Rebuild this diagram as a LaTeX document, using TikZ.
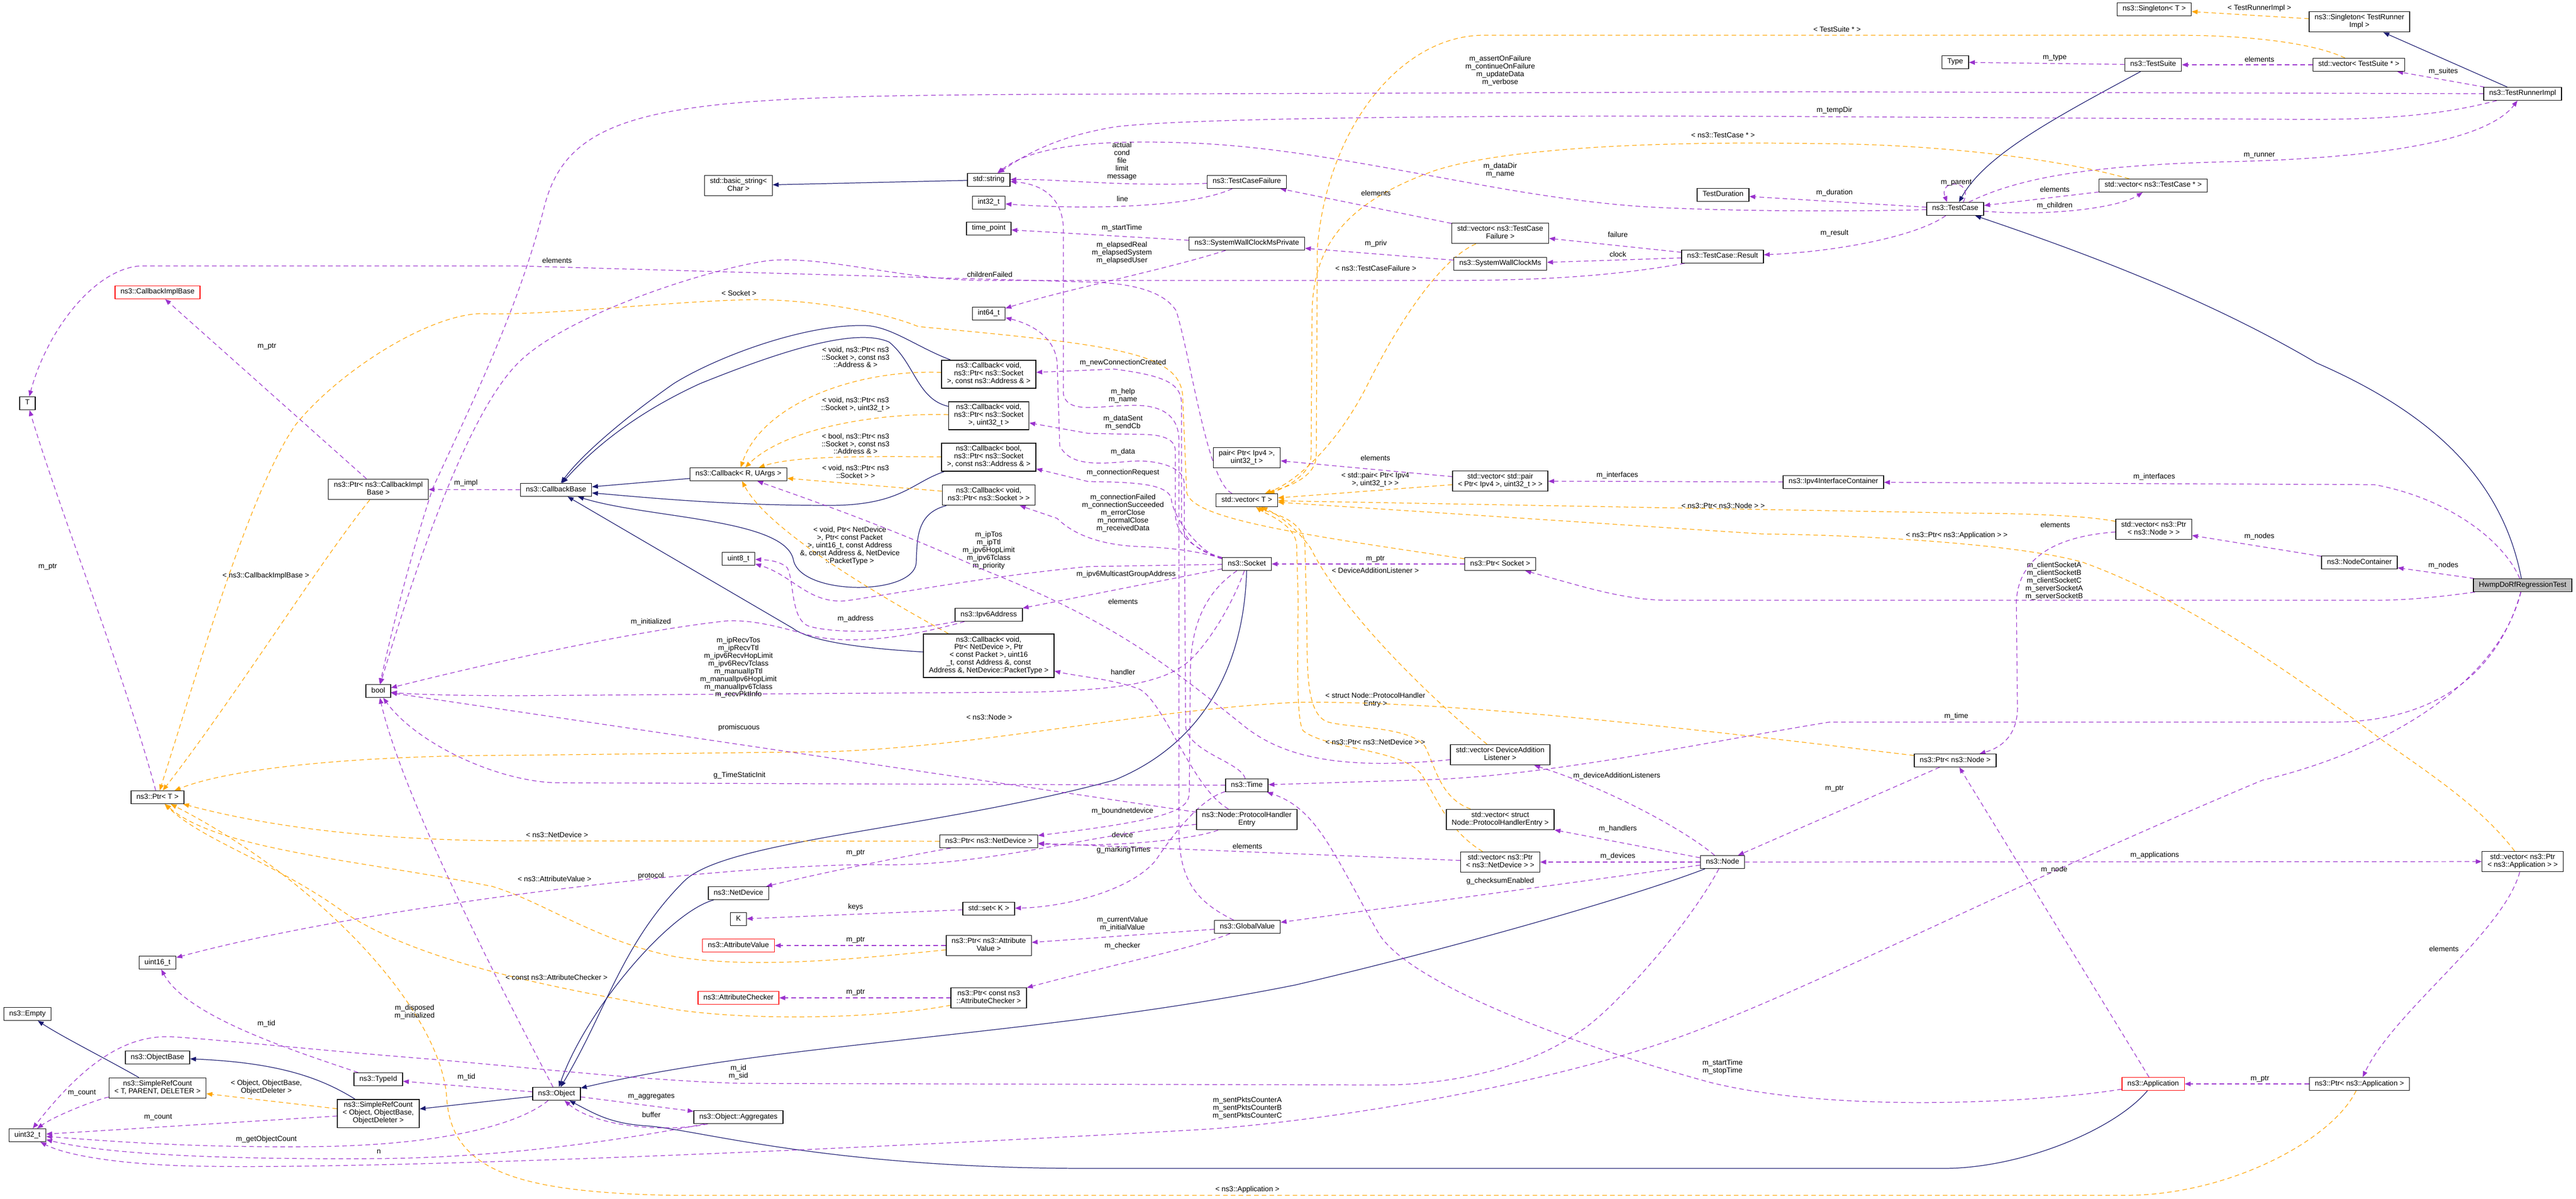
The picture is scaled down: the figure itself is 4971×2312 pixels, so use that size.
\documentclass[tikz,border=0pt]{standalone}
\usepackage{fontspec}
\setmainfont{Liberation Sans}
\usetikzlibrary{arrows.meta}
\definecolor{usecol}{HTML}{9A32CD}
\definecolor{tmplcol}{HTML}{FFA500}
\definecolor{inhcol}{HTML}{191970}
\definecolor{maingray}{HTML}{BFBFBF}
\pgfdeclarelayer{bg}
\pgfdeclarelayer{edges}
\pgfsetlayers{bg,edges,main}
\tikzset{
  cls/.style={draw=black, line width=0.8pt, fill=white, font=\fontsize{8}{8.5}\selectfont, align=center, inner xsep=6pt, inner ysep=2.8pt, execute at begin node=\strut, execute at end node=\strut},
  redcls/.style={cls, draw=red},
  maincls/.style={cls, fill=maingray},
  lbl/.style={font=\fontsize{8}{8.5}\selectfont, align=center, inner sep=0pt},
  tip/.style={-{Triangle[length=6.5pt,width=5pt]}},
  usage/.style={tip, draw=usecol, line width=0.7pt, dash pattern=on 5pt off 3.5pt},
  tmpl/.style={tip, draw=tmplcol, line width=0.7pt, dash pattern=on 5pt off 3.5pt},
  inherit/.style={tip, draw=inhcol, line width=0.7pt}
}
\begin{document}
\begin{tikzpicture}[x=0.02cm, y=-0.02cm]
\begin{pgfonlayer}{bg}
\fill[white] (0,0) rectangle (4971,2312);
\end{pgfonlayer}
\useasboundingbox (0,0) rectangle (4971,2312);

\node[cls] (SingT) at (4157,18) {ns3::Singleton< T >};
\node[cls] (SingTRI) at (4553,42) {ns3::Singleton< TestRunner\\Impl >};
\node[cls] (TRI) at (4868,181) {ns3::TestRunnerImpl};
\node[cls] (VecSuite) at (4552,125) {std::vector< TestSuite * >};
\node[cls] (Suite) at (4155,125) {ns3::TestSuite};
\node[cls] (Type) at (3773,120) {Type};
\node[cls] (TCase) at (3773,403) {ns3::TestCase};
\node[cls] (VecCase) at (4155,358) {std::vector< ns3::TestCase * >};
\node[cls] (Duration) at (3325,376) {TestDuration};
\node[cls] (Result) at (3324,495) {ns3::TestCase::Result};
\node[cls] (VecFail) at (2895,450) {std::vector< ns3::TestCase\\Failure >};
\node[cls] (Clock) at (2895,509) {ns3::SystemWallClockMs};
\node[cls] (ClockPriv) at (2406,470) {ns3::SystemWallClockMsPrivate};
\node[cls] (Fail) at (2406,351) {ns3::TestCaseFailure};
\node[cls] (Str) at (1908,347) {std::string};
\node[cls] (BStr) at (1425,358) {std::basic\_string<\\ Char >};
\node[cls] (I32) at (1908,391) {int32\_t};
\node[cls] (TPoint) at (1908,441) {time\_point};
\node[cls] (I64) at (1908,605) {int64\_t};
\node[cls] (CbA) at (1908,722) {ns3::Callback< void,\\ ns3::Ptr< ns3::Socket\\ >, const ns3::Address \& >};
\node[cls] (CbU) at (1908,802) {ns3::Callback< void,\\ ns3::Ptr< ns3::Socket\\ >, uint32\_t >};
\node[cls] (CbB) at (1908,882) {ns3::Callback< bool,\\ ns3::Ptr< ns3::Socket\\ >, const ns3::Address \& >};
\node[cls] (CbS) at (1908,955) {ns3::Callback< void,\\ ns3::Ptr< ns3::Socket > >};
\node[cls] (CbR) at (1425,915) {ns3::Callback< R, UArgs >};
\node[cls] (CbBase) at (1073,945) {ns3::CallbackBase};
\node[cls] (PtrImpl) at (730,944) {ns3::Ptr< ns3::CallbackImpl\\Base >};
\node[redcls] (ImplBase) at (304,564) {ns3::CallbackImplBase};
\node[cls] (T) at (53,778) {T};
\node[cls] (PtrT) at (304,1538) {ns3::Ptr< T >};
\node[cls] (Bool) at (730,1333) {bool};
\node[cls] (U8) at (1425,1078) {uint8\_t};
\node[cls] (Ip6) at (1908,1186) {ns3::Ipv6Address};
\node[cls] (CbDev) at (1908,1265) {ns3::Callback< void,\\ Ptr< NetDevice >, Ptr\\< const Packet >, uint16\\\_t, const Address \&, const\\ Address \&, NetDevice::PacketType >};
\node[cls] (PtrDev) at (1908,1623) {ns3::Ptr< ns3::NetDevice >};
\node[cls] (NetDev) at (1425,1723) {ns3::NetDevice};
\node[cls] (K) at (1425,1773) {K};
\node[cls] (SetK) at (1908,1753) {std::set< K >};
\node[redcls] (AttrVal) at (1425,1824) {ns3::AttributeValue};
\node[cls] (PtrVal) at (1908,1824) {ns3::Ptr< ns3::Attribute\\Value >};
\node[redcls] (AttrChk) at (1425,1925) {ns3::AttributeChecker};
\node[cls] (PtrChk) at (1908,1925) {ns3::Ptr< const ns3\\::AttributeChecker >};
\node[cls] (Global) at (2407,1788) {ns3::GlobalValue};
\node[cls] (Obj) at (1074,2110) {ns3::Object};
\node[cls] (Aggr) at (1425,2155) {ns3::Object::Aggregates};
\node[cls] (TypeId) at (730,2082) {ns3::TypeId};
\node[cls] (SRCObj) at (730,2148) {ns3::SimpleRefCount\\< Object, ObjectBase,\\ ObjectDeleter >};
\node[cls] (ObjBase) at (304,2040) {ns3::ObjectBase};
\node[cls] (SRCT) at (304,2099) {ns3::SimpleRefCount\\< T, PARENT, DELETER >};
\node[cls] (Empty) at (53,1956) {ns3::Empty};
\node[cls] (U32) at (53,2190) {uint32\_t};
\node[cls] (U16) at (304,1857) {uint16\_t};
\node[cls] (Socket) at (2406,1088) {ns3::Socket};
\node[cls] (VecT) at (2406,965) {std::vector< T >};
\node[cls] (Pair) at (2406,883) {pair< Ptr< Ipv4 >,\\ uint32\_t >};
\node[cls] (VecPair) at (2895,928) {std::vector< std::pair\\< Ptr< Ipv4 >, uint32\_t > >};
\node[cls] (PtrSock) at (2895,1088) {ns3::Ptr< Socket >};
\node[cls] (Ip4Cont) at (3538,930) {ns3::Ipv4InterfaceContainer};
\node[cls] (VecNode) at (4156,1021) {std::vector< ns3::Ptr\\< ns3::Node > >};
\node[cls] (NodeCont) at (4553,1085) {ns3::NodeContainer};
\node[maincls] (Hwmp) at (4868,1129) {HwmpDoRfRegressionTest};
\node[cls] (PtrNode) at (3773,1467) {ns3::Ptr< ns3::Node >};
\node[cls] (VecDAL) at (2895,1456) {std::vector< DeviceAddition\\Listener >};
\node[cls] (Time) at (2406,1515) {ns3::Time};
\node[cls] (PHE) at (2406,1581) {ns3::Node::ProtocolHandler\\Entry};
\node[cls] (VecPHE) at (2895,1581) {std::vector< struct\\ Node::ProtocolHandlerEntry >};
\node[cls] (VecDev) at (2895,1663) {std::vector< ns3::Ptr\\< ns3::NetDevice > >};
\node[cls] (Node) at (3324,1663) {ns3::Node};
\node[cls] (PtrApp) at (4553,2091) {ns3::Ptr< ns3::Application >};
\node[redcls] (App) at (4155,2091) {ns3::Application};
\node[cls] (VecApp) at (4868,1662) {std::vector< ns3::Ptr\\< ns3::Application > >};

\begin{pgfonlayer}{edges}
\draw[inherit] (TRI) -- (SingTRI);
\draw[inherit] (Suite) .. controls (3960,230) and (3830,300) .. (TCase);
\draw[inherit] (Hwmp) .. controls (4830,930) and (4700,800) .. (4470,700) .. controls (4250,570) and (4000,480) .. (TCase);
\draw[inherit] (Str) -- (BStr);
\draw[inherit] (CbR) -- (CbBase);
\draw[inherit] (CbA) .. controls (1770,670) and (1720,630) .. (1670,628) .. controls (1550,625) and (1380,690) .. (1300,740) .. controls (1200,810) and (1120,880) .. (CbBase);
\draw[inherit] (CbU) .. controls (1770,770) and (1765,700) .. (1716,660) .. controls (1650,630) and (1500,680) .. (1351,740) .. controls (1220,800) and (1140,870) .. (CbBase);
\draw[inherit] (CbB) .. controls (1760,930) and (1740,975) .. (1600,975) .. controls (1400,975) and (1250,960) .. (CbBase);
\draw[inherit] (CbS) .. controls (1768,990) and (1770,1040) .. (1768,1085) .. controls (1765,1150) and (1545,1150) .. (1531,1080) .. controls (1515,1000) and (1250,1000) .. (CbBase);
\draw[inherit] (CbDev) .. controls (1650,1250) and (1560,1235) .. (1530,1212) -- (CbBase);
\draw[inherit] (NetDev) .. controls (1290,1760) and (1130,1950) .. (Obj);
\draw[inherit] (Socket) .. controls (2400,1300) and (2310,1440) .. (2150,1505) .. controls (1800,1600) and (1400,1620) .. (1320,1700) .. controls (1200,1820) and (1170,1950) .. (Obj);
\draw[inherit] (Node) .. controls (3150,1730) and (2800,1830) .. (2500,1900) .. controls (2000,2000) and (1500,2010) .. (Obj);
\draw[inherit] (App) .. controls (4080,2180) and (3900,2254) .. (3750,2254) -- (2100,2254) .. controls (1600,2254) and (1350,2180) .. (1250,2172) .. controls (1180,2168) and (1150,2150) .. (Obj);
\draw[inherit] (Obj) -- (SRCObj);
\draw[inherit] (SRCObj) .. controls (620,2080) and (540,2050) .. (ObjBase);
\draw[inherit] (SRCT) .. controls (200,2040) and (120,2000) .. (Empty);

\draw[tmpl] (SingTRI) -- (SingT) node[lbl] (lTRI) at (4360,16) {< TestRunnerImpl >};
\draw[tmpl] (VecSuite) .. controls (4470,85) and (4350,68) .. (4200,68) -- (2861,68) .. controls (2700,70) and (2560,250) .. (2542,480) -- (2540,880) .. controls (2538,930) and (2460,945) .. (VecT) node[lbl] (lSuites) at (3545,56) {< TestSuite * >};
\draw[tmpl] (VecCase) .. controls (3950,300) and (3700,277) .. (3500,277) .. controls (3200,272) and (2900,285) .. (2766,330) .. controls (2600,390) and (2535,470) .. (2532,600) -- (2530,880) .. controls (2528,920) and (2470,945) .. (VecT) node[lbl] (lCases) at (3325,261) {< ns3::TestCase * >};
\draw[tmpl] (VecFail) .. controls (2780,500) and (2700,620) .. (2640,740) .. controls (2580,860) and (2500,930) .. (VecT) node[lbl] (lFails) at (2655,517) {< ns3::TestCaseFailure >};
\draw[tmpl] (VecPair) -- (VecT) node[lbl] (lPairs) at (2654,925) {< std::pair< Ptr< Ipv4\\ >, uint32\_t > >};
\draw[tmpl] (VecNode) .. controls (4030,995) and (3900,990) .. (3800,990) -- (VecT) node[lbl] (lNodes) at (3325,975) {< ns3::Ptr< ns3::Node > >};
\draw[tmpl] (VecApp) .. controls (4790,1560) and (4700,1500) .. (4600,1430) .. controls (4400,1280) and (4200,1150) .. (4020,1085) .. controls (3900,1050) and (3600,1032) .. (3400,1030) -- (VecT) node[lbl] (lApps) at (3776,1033) {< ns3::Ptr< ns3::Application > >};
\draw[tmpl] (VecDAL) .. controls (2800,1380) and (2600,1200) .. (2529,1057) .. controls (2495,1010) and (2460,990) .. (VecT) node[lbl] (lDAL) at (2654,1100) {< DeviceAdditionListener >};
\draw[tmpl] (VecPHE) .. controls (2780,1540) and (2770,1480) .. (2750,1440) .. controls (2720,1400) and (2600,1405) .. (2560,1392) .. controls (2522,1375) and (2522,1300) .. (2522,1200) -- (2518,1050) .. controls (2515,1000) and (2450,990) .. (VecT) node[lbl] (lPHE) at (2654,1350) {< struct Node::ProtocolHandler\\Entry >};
\draw[tmpl] (VecDev) .. controls (2790,1600) and (2770,1530) .. (2740,1490) .. controls (2700,1445) and (2560,1445) .. (2515,1410) .. controls (2500,1390) and (2505,1250) .. (2505,1150) -- (2502,1050) .. controls (2498,1010) and (2440,990) .. (VecT) node[lbl] (lDevs) at (2654,1431) {< ns3::Ptr< ns3::NetDevice > >};
\draw[tmpl] (PtrImpl) .. controls (620,1080) and (450,1350) .. (PtrT) node[lbl] (lImpl) at (513,1111) {< ns3::CallbackImplBase >};
\draw[tmpl] (PtrSock) .. controls (2500,1030) and (2300,1000) .. (2290,950) -- (2282,760) .. controls (2272,680) and (2150,665) .. (1772,630) .. controls (1700,600) and (1560,578) .. (1456,578) .. controls (1300,580) and (1050,610) .. (925,605) .. controls (820,610) and (650,720) .. (570,820) .. controls (480,950) and (380,1300) .. (PtrT) node[lbl] (lSock) at (1426,565) {< Socket >};
\draw[tmpl] (PtrNode) .. controls (3300,1410) and (2800,1350) .. (2500,1355) .. controls (2200,1370) and (1900,1440) .. (1600,1450) -- (1000,1457) .. controls (700,1457) and (450,1480) .. (PtrT) node[lbl] (lNode) at (1909,1383) {< ns3::Node >};
\draw[tmpl] (PtrDev) -- (1000,1622) .. controls (700,1622) and (500,1590) .. (PtrT) node[lbl] (lDev) at (1075,1610) {< ns3::NetDevice >};
\draw[tmpl] (PtrVal) .. controls (1650,1850) and (1450,1870) .. (1300,1845) .. controls (1150,1815) and (1050,1740) .. (950,1710) .. controls (700,1660) and (420,1640) .. (PtrT) node[lbl] (lVal) at (1070,1695) {< ns3::AttributeValue >};
\draw[tmpl] (PtrChk) .. controls (1700,1965) and (1450,1970) .. (1300,1947) .. controls (1100,1910) and (800,1860) .. (650,1750) .. controls (520,1660) and (390,1620) .. (PtrT) node[lbl] (lChk) at (1074,1885) {< const ns3::AttributeChecker >};
\draw[tmpl] (PtrApp) .. controls (4500,2200) and (4300,2306) .. (4100,2306) -- (1300,2306) .. controls (1000,2300) and (870,2260) .. (862,2117) .. controls (850,1950) and (620,1700) .. (PtrT) node[lbl] (lApp) at (2407,2295) {< ns3::Application >};
\draw[tmpl] (CbA) .. controls (1650,712) and (1470,780) .. (CbR) node[lbl] (lCbA) at (1651,689) {< void, ns3::Ptr< ns3\\::Socket >, const ns3\\::Address \& >};
\draw[tmpl] (CbU) .. controls (1680,796) and (1510,830) .. (CbR) node[lbl] (lCbU) at (1651,780) {< void, ns3::Ptr< ns3\\::Socket >, uint32\_t >};
\draw[tmpl] (CbB) .. controls (1650,880) and (1530,880) .. (CbR) node[lbl] (lCbB) at (1651,856) {< bool, ns3::Ptr< ns3\\::Socket >, const ns3\\::Address \& >};
\draw[tmpl] (CbS) -- (CbR) node[lbl] (lCbS) at (1651,910) {< void, ns3::Ptr< ns3\\::Socket > >};
\draw[tmpl] (CbDev) .. controls (1680,1140) and (1480,1020) .. (CbR) node[lbl] (lCbDev) at (1640,1053) {< void, Ptr< NetDevice\\>, Ptr< const Packet\\>, uint16\_t, const Address\\\&, const Address \&, NetDevice\\::PacketType >};
\draw[tmpl] (SRCObj) -- (SRCT) node[lbl] (lSRC) at (514,2097) {< Object, ObjectBase,\\ ObjectDeleter >};

\draw[usage] (Suite) -- (Type) node[lbl] (lType) at (3965,111) {m\_type};
\draw[usage] (VecSuite) -- (Suite) node[lbl] (lSuiteEl) at (4360,114) {elements};
\draw[usage] (TRI) -- (VecSuite) node[lbl] (lSuitesM) at (4715,138) {m\_suites};
\draw[usage] (TCase.40) .. controls (3810,345) and (3740,345) .. (TCase.140) node[lbl] (lParent) at (3775,352) {m\_parent};
\draw[usage] (VecCase) -- (TCase) node[lbl] (lCaseEl) at (3965,365) {elements};
\draw[usage] (TCase) .. controls (3960,418) and (4090,400) .. (VecCase) node[lbl] (lChildren) at (3965,397) {m\_children};
\draw[usage] (TCase) .. controls (3900,340) and (4050,318) .. (4300,312) .. controls (4600,305) and (4800,270) .. (TRI) node[lbl] (lRunner) at (4360,300) {m\_runner};
\draw[usage] (TCase) -- (Duration) node[lbl] (lDuration) at (3540,372) {m\_duration};
\draw[usage] (TCase) .. controls (3700,455) and (3550,485) .. (Result) node[lbl] (lResult) at (3540,450) {m\_result};
\draw[usage] (TCase) .. controls (3500,410) and (3250,405) .. (3148,397) .. controls (3000,385) and (2850,355) .. (2766,340) .. controls (2600,310) and (2450,282) .. (2300,276) .. controls (2150,270) and (2000,275) .. (Str) node[lbl] (lDataDir) at (2895,328) {m\_dataDir\\m\_name};
\draw[usage] (TRI) .. controls (4700,225) and (4580,232) .. (4400,230) -- (3500,225) .. controls (3000,222) and (2300,225) .. (2150,245) .. controls (2050,262) and (1990,290) .. (Str) node[lbl] (lTempDir) at (3540,213) {m\_tempDir};
\draw[usage] (TRI) -- (3500,177) -- (2000,182) .. controls (1300,186) and (1100,200) .. (1050,400) .. controls (1000,600) and (900,800) .. (835,942) .. controls (790,1080) and (760,1200) .. (Bool) node[lbl] (lAssert) at (2895,136) {m\_assertOnFailure\\m\_continueOnFailure\\m\_updateData\\m\_verbose};
\draw[usage] (Result) -- (VecFail) node[lbl] (lFailure) at (3122,452) {failure};
\draw[usage] (Result) -- (Clock) node[lbl] (lClock) at (3122,490) {clock};
\draw[usage] (Result) .. controls (3100,535) and (2950,541) .. (2800,541) -- (1900,541) .. controls (1750,541) and (1600,495) .. (1491,502) .. controls (1400,510) and (1100,600) .. (1000,700) .. controls (900,800) and (800,1100) .. (Bool) node[lbl] (lChildFail) at (1910,529) {childrenFailed};
\draw[usage] (VecFail) -- (Fail) node[lbl] (lFailEl) at (2655,372) {elements};
\draw[usage] (Clock) -- (ClockPriv) node[lbl] (lPriv) at (2655,470) {m\_priv};
\draw[usage] (ClockPriv) -- (TPoint) node[lbl] (lStart) at (2165,440) {m\_startTime};
\draw[usage] (ClockPriv) .. controls (2250,520) and (2050,560) .. (I64) node[lbl] (lElapsed) at (2165,488) {m\_elapsedReal\\m\_elapsedSystem\\m\_elapsedUser};
\draw[usage] (Fail) .. controls (2150,360) and (2050,345) .. (Str) node[lbl] (lActual) at (2165,311) {actual\\cond\\file\\limit\\message};
\draw[usage] (Fail) .. controls (2300,400) and (2100,405) .. (I32) node[lbl] (lLine) at (2166,383) {line};
\draw[usage] (Global) .. controls (2310,1740) and (2275,1700) .. (2275,1600) -- (2275,850) .. controls (2275,800) and (2240,782) .. (2190,782) .. controls (2120,782) and (2060,800) .. (2052,760) -- (2052,440) .. controls (2050,380) and (2010,355) .. (Str) node[lbl] (lHelp) at (2167,763) {m\_help\\m\_name};
\draw[usage] (Time) .. controls (2395,1470) and (2290,1450) .. (2288,1400) -- (2285,930) .. controls (2283,900) and (2230,886) .. (2180,890) .. controls (2120,895) and (2065,900) .. (2045,860) -- (2040,700) .. controls (2036,650) and (1990,625) .. (I64) node[lbl] (lData) at (2167,872) {m\_data};
\draw[usage] (Socket) .. controls (2330,1070) and (2280,1050) .. (2280,1000) -- (2280,780) .. controls (2280,740) and (2250,725) .. (2150,712) -- (CbA) node[lbl] (lNewConn) at (2167,700) {m\_newConnectionCreated};
\draw[usage] (Socket) .. controls (2320,1065) and (2268,1040) .. (2268,990) -- (2268,870) .. controls (2268,845) and (2240,838) .. (2200,838) -- (2100,836) -- (CbU) node[lbl] (lSent) at (2167,815) {m\_dataSent\\m\_sendCb};
\draw[usage] (Socket) .. controls (2320,1070) and (2262,1000) .. (2260,960) .. controls (2250,935) and (2200,930) .. (2100,929) -- (CbB) node[lbl] (lConnReq) at (2167,912) {m\_connectionRequest};
\draw[usage] (Socket) .. controls (2330,1070) and (2290,1057) .. (2190,1054) .. controls (2120,1050) and (2070,1030) .. (2040,1000) -- (CbS) node[lbl] (lConnFail) at (2167,990) {m\_connectionFailed\\m\_connectionSucceeded\\m\_errorClose\\m\_normalClose\\m\_receivedData};
\draw[usage] (Socket) -- (2100,1093) .. controls (1900,1112) and (1700,1150) .. (1632,1159) .. controls (1560,1165) and (1530,1110) .. (U8) node[lbl] (lIpTos) at (1908,1062) {m\_ipTos\\m\_ipTtl\\m\_ipv6HopLimit\\m\_ipv6Tclass\\m\_priority};
\draw[usage] (Socket) -- (Ip6) node[lbl] (lMcast) at (2173,1108) {m\_ipv6MulticastGroupAddress};
\draw[usage] (Ip6) .. controls (1750,1218) and (1620,1225) .. (1561,1208) .. controls (1525,1195) and (1533,1120) .. (1519,1095) .. controls (1505,1082) and (1480,1080) .. (U8) node[lbl] (lAddr) at (1651,1194) {m\_address};
\draw[usage] (Ip6) .. controls (1772,1224) and (1650,1248) .. (1560,1225) .. controls (1500,1208) and (1450,1195) .. (1400,1198) .. controls (1200,1220) and (900,1290) .. (Bool) node[lbl] (lInit) at (1256,1200) {m\_initialized};
\draw[usage] (Socket) .. controls (2380,1160) and (2340,1230) .. (2300,1270) .. controls (2250,1320) and (2150,1330) .. (2000,1335) -- (1000,1342) .. controls (900,1342) and (800,1340) .. (Bool) node[lbl] (lRecv) at (1425,1288) {m\_ipRecvTos\\m\_ipRecvTtl\\m\_ipv6RecvHopLimit\\m\_ipv6RecvTclass\\m\_manualIpTtl\\m\_manualIpv6HopLimit\\m\_manualIpv6Tclass\\m\_recvPktInfo};
\draw[usage] (Socket) .. controls (2330,1140) and (2297,1200) .. (2297,1300) -- (2295,1530) .. controls (2293,1560) and (2270,1580) .. (PtrDev) node[lbl] (lBound) at (2166,1565) {m\_boundnetdevice};
\draw[usage] (PHE) .. controls (2300,1620) and (2150,1635) .. (PtrDev) node[lbl] (lDevice) at (2166,1610) {device};
\draw[usage] (VecDev) -- (PtrDev) node[lbl] (lDevEl) at (2407,1632) {elements};
\draw[usage] (PtrDev) .. controls (1700,1660) and (1560,1690) .. (NetDev) node[lbl] (lDevPtr) at (1651,1645) {m\_ptr};
\draw[usage] (Time) .. controls (2320,1540) and (2270,1600) .. (2230,1660) .. controls (2180,1720) and (2050,1750) .. (SetK) node[lbl] (lMarking) at (2168,1640) {g\_markingTimes};
\draw[usage] (SetK) -- (K) node[lbl] (lKeys) at (1651,1750) {keys};
\draw[usage] (PtrVal) -- (AttrVal) node[lbl] (lValPtr) at (1651,1813) {m\_ptr};
\draw[usage] (PtrChk) -- (AttrChk) node[lbl] (lChkPtr) at (1651,1914) {m\_ptr};
\draw[usage] (Global) -- (PtrVal) node[lbl] (lCurrent) at (2166,1782) {m\_currentValue\\m\_initialValue};
\draw[usage] (Global) .. controls (2300,1830) and (2150,1860) .. (PtrChk) node[lbl] (lChecker) at (2166,1825) {m\_checker};
\draw[usage] (Node) -- (Global) node[lbl] (lChecksum) at (2895,1700) {g\_checksumEnabled};
\draw[usage] (Node) -- (VecPHE) node[lbl] (lHandlers) at (3122,1599) {m\_handlers};
\draw[usage] (Node) -- (VecDev) node[lbl] (lDevices) at (3122,1652) {m\_devices};
\draw[usage] (Node) .. controls (3250,1600) and (3100,1520) .. (VecDAL) node[lbl] (lListeners) at (3120,1497) {m\_deviceAdditionListeners};
\draw[usage] (VecDAL) .. controls (2600,1485) and (2480,1465) .. (2400,1400) .. controls (2250,1280) and (2150,1200) .. (1900,1100) .. controls (1700,1010) and (1550,960) .. (CbR) node[lbl] (lDALEl) at (2167,1160) {elements};
\draw[usage] (PHE) .. controls (2300,1520) and (2250,1360) .. (2200,1330) .. controls (2150,1310) and (2080,1305) .. (CbDev) node[lbl] (lHandler) at (2167,1296) {handler};
\draw[usage] (PHE) -- (Bool) node[lbl] (lPromisc) at (1426,1404) {promiscuous};
\draw[usage] (PHE) .. controls (2100,1610) and (1900,1672) .. (1700,1668) .. controls (1400,1665) and (700,1750) .. (U16) node[lbl] (lProtocol) at (1256,1690) {protocol};
\draw[usage] (Time) -- (1070,1510) .. controls (950,1505) and (800,1430) .. (Bool) node[lbl] (lStatic) at (1427,1496) {g\_TimeStaticInit};
\draw[usage] (Hwmp) -- (NodeCont) node[lbl] (lHNodes) at (4715,1091) {m\_nodes};
\draw[usage] (Hwmp) .. controls (4830,1040) and (4720,960) .. (4582,935) -- (Ip4Cont) node[lbl] (lHIfaces) at (4157,920) {m\_interfaces};
\draw[usage] (Hwmp) .. controls (4720,1150) and (4650,1158) .. (4582,1158) -- (3216,1158) .. controls (3130,1157) and (3050,1130) .. (PtrSock) node[lbl] (lSockets) at (3964,1121) {m\_clientSocketA\\m\_clientSocketB\\m\_clientSocketC\\m\_serverSocketA\\m\_serverSocketB};
\draw[usage] (Hwmp) .. controls (4820,1300) and (4700,1393) .. (4500,1393) -- (3530,1393) .. controls (3300,1430) and (3000,1495) .. (2760,1504) -- (Time) node[lbl] (lTime) at (3775,1382) {m\_time};
\draw[usage] (Hwmp) .. controls (4820,1320) and (4600,1450) .. (4366,1505) .. controls (3900,1700) and (3550,1880) .. (3300,1978) .. controls (3000,2100) and (2500,2170) .. (2300,2180) .. controls (1500,2225) and (600,2260) .. (330,2248) .. controls (200,2242) and (120,2225) .. (U32) node[lbl] (lCounters) at (2407,2138) {m\_sentPktsCounterA\\m\_sentPktsCounterB\\m\_sentPktsCounterC};
\draw[usage] (Ip4Cont) -- (VecPair) node[lbl] (lIfaces) at (3121,917) {m\_interfaces};
\draw[usage] (VecPair) -- (Pair) node[lbl] (lPairEl) at (2654,883) {elements};
\draw[usage] (PtrSock) -- (Socket) node[lbl] (lSockPtr) at (2654,1078) {m\_ptr};
\draw[usage] (NodeCont) -- (VecNode) node[lbl] (lNodesM) at (4360,1035) {m\_nodes};
\draw[usage] (VecNode) .. controls (3960,1035) and (3895,1080) .. (3891,1160) -- (3893,1360) .. controls (3895,1410) and (3870,1440) .. (PtrNode) node[lbl] (lNodeEl) at (3966,1012) {elements};
\draw[usage] (PtrNode) -- (Node) node[lbl] (lNodePtr) at (3540,1521) {m\_ptr};
\draw[usage] (App) -- (PtrNode) node[lbl] (lMNode) at (3964,1678) {m\_node};
\draw[usage] (App) .. controls (3950,2125) and (3550,2150) .. (3300,2088) .. controls (3050,2020) and (2720,1900) .. (2660,1800) .. controls (2570,1640) and (2540,1560) .. (Time) node[lbl] (lStop) at (3324,2058) {m\_startTime\\m\_stopTime};
\draw[usage] (Node) -- (VecApp) node[lbl] (lApplications) at (4158,1650) {m\_applications};
\draw[usage] (VecApp) .. controls (4830,1800) and (4620,1950) .. (PtrApp) node[lbl] (lAppEl) at (4716,1830) {elements};
\draw[usage] (PtrApp) -- (App) node[lbl] (lAppPtr) at (4361,2081) {m\_ptr};
\draw[usage] (Node) .. controls (3250,1800) and (3100,1960) .. (3048,1990) .. controls (2950,2060) and (2800,2093) .. (2666,2093) -- (1434,2090) .. controls (1250,2085) and (1050,2062) .. (829,2043) .. controls (600,2025) and (420,2005) .. (330,2000) .. controls (250,1997) and (170,2040) .. (U32) node[lbl] (lId) at (1425,2068) {m\_id\\m\_sid};
\draw[usage] (PtrT) .. controls (240,1300) and (120,1000) .. (T) node[lbl] (lTPtr) at (92,1093) {m\_ptr};
\draw[usage] (VecT) .. controls (2330,930) and (2300,700) .. (2270,600) .. controls (2245,560) and (2180,546) .. (2100,544) -- (1702,533) -- (1000,513) -- (270,513) .. controls (180,520) and (90,640) .. (T) node[lbl] (lTEl) at (1075,502) {elements};
\draw[usage] (PtrImpl) -- (ImplBase) node[lbl] (lImplPtr) at (515,668) {m\_ptr};
\draw[usage] (CbBase) -- (PtrImpl) node[lbl] (lImpl2) at (899,932) {m\_impl};
\draw[usage] (TypeId) .. controls (560,2025) and (360,1960) .. (U16) node[lbl] (lTidU) at (514,1975) {m\_tid};
\draw[usage] (Obj) -- (TypeId) node[lbl] (lTid) at (900,2078) {m\_tid};
\draw[usage] (Obj) .. controls (990,1950) and (780,1550) .. (Bool) node[lbl] (lDisposed) at (800,1952) {m\_disposed\\m\_initialized};
\draw[usage] (Obj) -- (Aggr) node[lbl] (lAggr) at (1257,2115) {m\_aggregates};
\draw[usage] (Aggr) .. controls (1290,2185) and (1150,2175) .. (Obj) node[lbl] (lBuffer) at (1257,2150) {buffer};
\draw[usage] (Aggr) .. controls (1250,2190) and (1000,2233) .. (730,2235) .. controls (400,2237) and (200,2225) .. (U32) node[lbl] (lN) at (731,2222) {n};
\draw[usage] (Obj) .. controls (1000,2170) and (850,2210) .. (600,2212) .. controls (350,2214) and (200,2200) .. (U32) node[lbl] (lCount) at (514,2198) {m\_getObjectCount};
\draw[usage] (SRCObj) -- (U32) node[lbl] (lRefObj) at (305,2155) {m\_count};
\draw[usage] (SRCT) .. controls (190,2120) and (110,2150) .. (U32) node[lbl] (lRefT) at (158,2108) {m\_count};
\end{pgfonlayer}
\end{tikzpicture}
\end{document}
